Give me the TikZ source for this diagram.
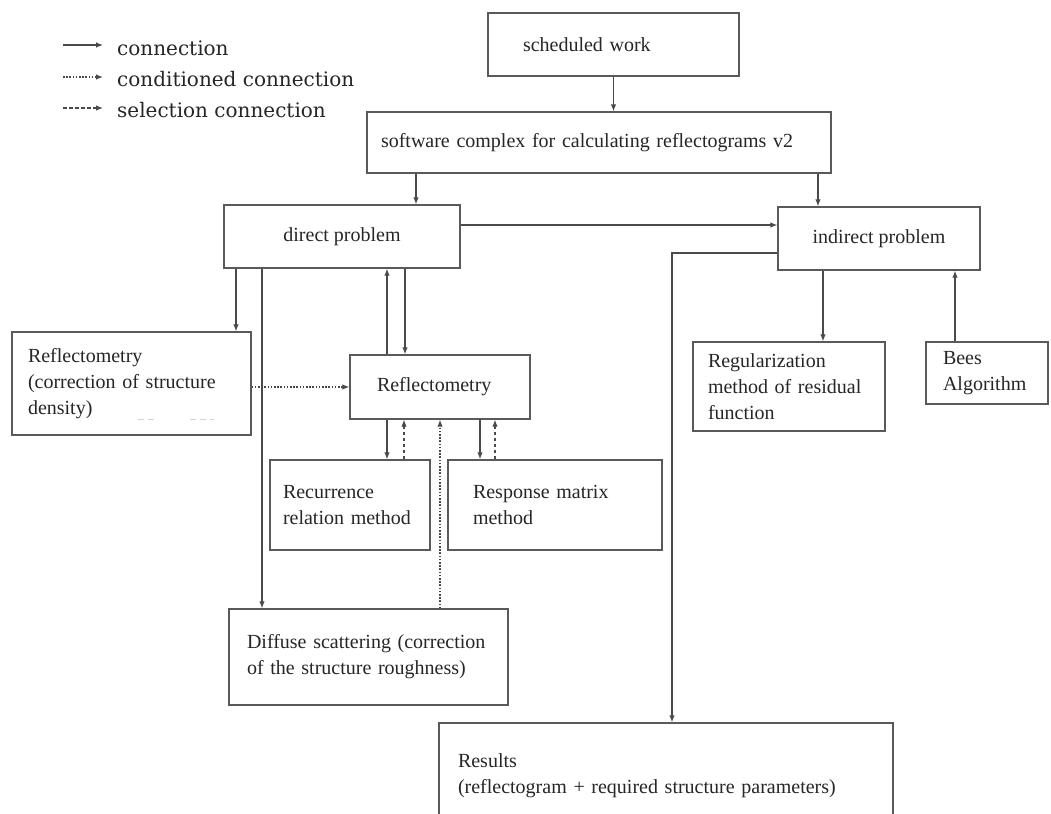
\documentclass[tikz,border=0pt]{standalone}
\usepackage{fontspec}
\setmainfont{Liberation Serif}
\newfontfamily\legfont{DejaVu Serif}
\usetikzlibrary{arrows.meta}
\definecolor{boxc}{HTML}{5A5A5A}
\definecolor{linec}{HTML}{4A4A4A}
\definecolor{txt}{HTML}{262626}
\tikzset{
  box/.style={draw=boxc, line width=1.3pt, fill=white, inner ysep=0pt, text=txt,
    font=\fontsize{20}{26}\selectfont},
  lbox/.style={box, align=left},
  conn/.style={draw=linec, line width=1.2pt, -{Latex[length=7pt,width=5.5pt]}},
  cond/.style={conn, dash pattern=on 1.6pt off 1.6pt},
  sel/.style={conn, dash pattern=on 3.5pt off 2.5pt},
  legtext/.style={anchor=base west, inner sep=0pt, text=txt, font=\legfont\fontsize{20}{24}\selectfont},
}
\begin{document}
\begin{tikzpicture}[x=1pt,y=-1pt]
\useasboundingbox (0,0) rectangle (1051,813);
\clip (0,0) rectangle (1051,813);
\fill[white] (0,0) rectangle (1051,813);

% legend
\coordinate (la1) at (63,45);  \coordinate (lb1) at (103,45);
\coordinate (la2) at (63,77);  \coordinate (lb2) at (103,77);
\coordinate (la3) at (63,108); \coordinate (lb3) at (103,108);
\draw[conn] (la1) -- (lb1);
\draw[cond] (la2) -- (lb2);
\draw[sel]  (la3) -- (lb3);
\node[legtext] (lt1) at (117,56) {connection};
\node[legtext] (lt2) at (117,87) {conditioned connection};
\node[legtext] (lt3) at (117,118) {selection connection};

% boxes
\node[lbox, minimum width=251, minimum height=63, text width=181, inner xsep=35] (sched) at (613.5,44.5) {scheduled work};
\node[lbox, minimum width=464, minimum height=61, text width=436, inner xsep=14] (soft) at (599,142.5) {software complex for calculating reflectograms v2};
\node[box, minimum width=236, minimum height=63] (direct) at (342,236.5) {direct problem};
\node[box, minimum width=202, minimum height=63] (indirect) at (879,238.5) {indirect problem};
\node[lbox, minimum width=239, minimum height=103, text width=207, inner xsep=16] (lrefl) at (131.5,383.5) {Reflectometry\\(correction of structure\\density)};
\node[lbox, minimum width=180, minimum height=64, text width=126, inner xsep=27] (cref) at (440,387) {Reflectometry};
\node[lbox, minimum width=160, minimum height=90, text width=134, inner xsep=13] (recur) at (350,505) {Recurrence\\relation method};
\node[lbox, minimum width=214, minimum height=90, text width=164, inner xsep=25] (resp) at (555,505) {Response matrix\\method};
\node[lbox, minimum width=192, minimum height=89, text width=162, inner xsep=15] (regul) at (789,386.5) {Regularization\\method of residual\\function};
\node[lbox, minimum width=122, minimum height=62, text width=88, inner xsep=17] (bees) at (987,373) {Bees\\Algorithm};
\node[lbox, minimum width=279, minimum height=96, text width=243, inner xsep=18] (diff) at (368.5,657) {Diffuse scattering (correction\\of the structure roughness)};
\node[lbox, minimum width=454, minimum height=106, text width=416, inner xsep=19] (res) at (666,776) {Results\\(reflectogram + required structure parameters)};

% faint marks inside the left box
\draw[gray!35, line width=1pt, dash pattern=on 6pt off 4pt] ([xshift=6pt,yshift=16pt]lrefl.south) -- ([xshift=26pt,yshift=16pt]lrefl.south);
\draw[gray!35, line width=1pt, dash pattern=on 6pt off 4pt] ([xshift=58pt,yshift=16pt]lrefl.south) -- ([xshift=82pt,yshift=16pt]lrefl.south);

% connectors
\draw[conn] (sched.south) -- (sched.south |- soft.north);
\coordinate (d1) at ([xshift=74pt]direct.north);
\draw[conn] (d1 |- soft.south) -- (d1);
\coordinate (i1) at ([xshift=-61pt]indirect.north);
\draw[conn] (i1 |- soft.south) -- (i1);
\coordinate (i2) at ([yshift=13.5pt]indirect.west);
\draw[conn] (direct.east |- i2) -- (i2);
\coordinate (i3) at ([yshift=-14.5pt]indirect.west);
\coordinate (r1) at ([xshift=6pt]res.north);
\draw[conn] (i3) -| (r1);
\coordinate (g1) at ([xshift=34pt]regul.north);
\draw[conn] (g1 |- indirect.south) -- (g1);
\coordinate (b1) at ([xshift=-32pt]bees.north);
\draw[conn] (b1) -- (b1 |- indirect.south);
\coordinate (l1) at ([xshift=104.5pt]lrefl.north);
\draw[conn] (l1 |- direct.south) -- (l1);
\coordinate (f1) at ([xshift=-106.5pt]diff.north);
\draw[conn] (f1 |- direct.south) -- (f1);
\coordinate (c1) at ([xshift=-53pt]cref.north);
\draw[conn] (c1) -- (c1 |- direct.south);
\coordinate (c2) at ([xshift=-35pt]cref.north);
\draw[conn] (c2 |- direct.south) -- (c2);
\draw[cond] (lrefl.east |- cref.west) -- (cref.west);
\coordinate (e1) at ([xshift=37pt]recur.north);
\draw[conn] (e1 |- cref.south) -- (e1);
\coordinate (e2) at ([xshift=54pt]recur.north);
\draw[sel] (e2) -- (e2 |- cref.south);
\coordinate (f2) at ([xshift=71.5pt]diff.north);
\draw[cond] (f2) -- (f2 |- cref.south);
\coordinate (p1) at ([xshift=-75pt]resp.north);
\draw[conn] (p1 |- cref.south) -- (p1);
\coordinate (p2) at ([xshift=-60pt]resp.north);
\draw[sel] (p2) -- (p2 |- cref.south);
\end{tikzpicture}
\end{document}
